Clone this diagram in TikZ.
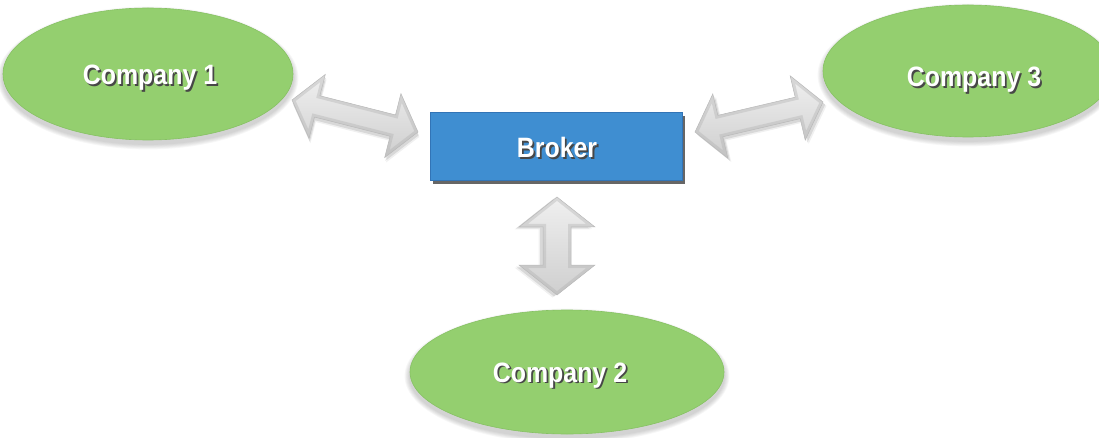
\documentclass[tikz,border=0pt]{standalone}
\usepackage{fontspec}
\setmainfont{Liberation Sans}
\newfontfamily\labelfont[FakeStretch=0.89]{Liberation Sans}
\usetikzlibrary{shapes.geometric,shadows}

\definecolor{leaf}{HTML}{94CF6F}
\definecolor{leafedge}{HTML}{86C163}
\definecolor{brokerblue}{HTML}{3F8ED1}
\definecolor{brokeredge}{HTML}{3274B6}

% white bold label with a dark offset shadow
\newcommand\shadowlabel[1]{%
  \makebox[0pt][l]{\hspace{1.8pt}\raisebox{-1.8pt}{\textcolor{black!72}{#1}}}%
  \textcolor{white}{#1}}

% grey bevelled double block arrow between two named points
% #1 start, #2 end, #3 head length, #4 head half width, #5 shaft half width
\newcommand\blockarrow[5]{%
  \pgfmathanglebetweenpoints{\pgfpointanchor{#1}{center}}{\pgfpointanchor{#2}{center}}%
  \let\barang\pgfmathresult
  \pgfpointdiff{\pgfpointanchor{#1}{center}}{\pgfpointanchor{#2}{center}}%
  \pgfgetlastxy{\bardx}{\bardy}%
  \pgfmathsetmacro\barlen{veclen(\bardx,\bardy)}%
  \pgfmathsetmacro\barback{\barlen-#3}%
  \def\barshape{(0pt,0pt) -- (#3pt,#4pt) -- (#3pt,#5pt) -- (\barback pt,#5pt)
    -- (\barback pt,#4pt) -- (\barlen pt,0pt) -- (\barback pt,-#4pt)
    -- (\barback pt,-#5pt) -- (#3pt,-#5pt) -- (#3pt,-#4pt) -- cycle}%
  \begin{scope}[shift={(#1)}, rotate=\barang]
    \fill[black, opacity=0.10, xshift=1.5pt, yshift=-3pt] \barshape;
    \fill[black, opacity=0.06, xshift=2.5pt, yshift=-4.5pt] \barshape;
    \begin{scope}
      \clip \barshape;
      \shade[top color=gray!12, bottom color=gray!38] \barshape;
      \draw[gray!65, line width=6pt, opacity=0.35] \barshape;
    \end{scope}
    \draw[gray!55, line width=0.5pt] \barshape;
  \end{scope}}

\begin{document}
\begin{tikzpicture}[x=1pt, y=-1pt,
  every node/.style={font=\labelfont\bfseries\fontsize{28}{32}\selectfont},
  label/.style={anchor=base, inner sep=0pt},
  company/.style={ellipse, fill=leaf, draw=leafedge, line width=0.6pt,
    inner sep=0pt},
  brokerbox/.style={rectangle, fill=brokerblue, draw=brokeredge,
    line width=0.6pt, minimum width=252pt, minimum height=68pt,
    drop shadow={shadow xshift=3pt, shadow yshift=-4pt,
      fill=black!75, opacity=0.8}}]

\useasboundingbox (0,0) rectangle (1099,438);
\clip (0,0) rectangle (1099,438);

% centres of the three companies
\coordinate (p1) at (148,74);
\coordinate (p2) at (567,372);
\coordinate (p3) at (968,71);

% soft shadows under the ellipses
\foreach \c/\rx/\ry in {p1/145/66, p2/157/62, p3/145/66}{
  \foreach \i in {1,...,6}{
    \fill[black, opacity=0.03] ([yshift=-4pt]\c) ellipse ({\rx+\i*0.9} and {\ry+\i*0.9});
  }
}

\node[company, minimum width=290pt, minimum height=132pt] (c1) at (p1) {};
\node[company, minimum width=314pt, minimum height=124pt] (c2) at (p2) {};
\node[company, minimum width=290pt, minimum height=132pt] (c3) at (p3) {};
\node[label] (t1) at (150,85) {\shadowlabel{Company 1}};
\node[label] (t2) at (560,382) {\shadowlabel{Company 2}};
\node[label] (t3) at (974,87) {\shadowlabel{Company 3}};

\node[brokerbox] (broker) at (556,146) {};
\node[label] (tb) at (557,158) {\shadowlabel{Broker}};

% arrow end points
\coordinate (a1s) at (292,100);
\coordinate (a1e) at (418,132);
\coordinate (a3s) at (695,132);
\coordinate (a3e) at (823,102);
\coordinate (a2s) at (557,197);
\coordinate (a2e) at (557,295);

\blockarrow{a1s}{a1e}{26}{33}{11}
\blockarrow{a3s}{a3e}{26}{33}{11}
\blockarrow{a2s}{a2e}{30}{38}{14}

\end{tikzpicture}
\end{document}
